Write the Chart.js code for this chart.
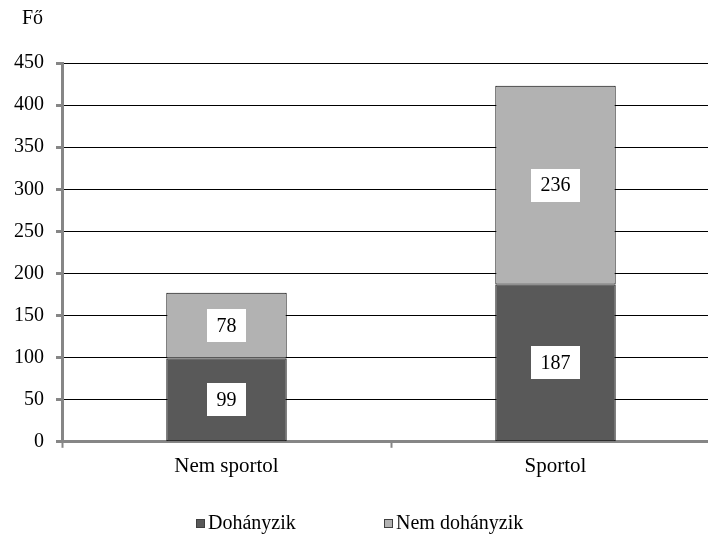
<!DOCTYPE html>
<html>
<head>
<meta charset="utf-8">
<script src="https://cdn.jsdelivr.net/npm/chart.js@4.4.0/dist/chart.umd.min.js"></script>
<style>
html,body{margin:0;padding:0;background:#fff;overflow:hidden;}
#wrap{width:720px;height:535px;position:relative;}
</style>
</head>
<body>
<div id="wrap"><canvas id="c" width="720" height="535"></canvas></div>
<script>
const categories = ["Nem sportol", "Sportol"];
const smokers = [99, 187];
const nonSmokers = [78, 236];
const seriesNames = ["Dohányzik", "Nem dohányzik"];
const yTitle = "Fő";

const FONT = "'Liberation Serif', 'Times New Roman', serif";

const labelBoxes = {
  id: 'labelBoxes',
  afterDatasetsDraw(chart) {
    const ctx = chart.ctx;
    ctx.save();
    ctx.font = "20px " + FONT;
    ctx.textAlign = 'center';
    ctx.textBaseline = 'middle';
    chart.data.datasets.forEach((ds, di) => {
      const meta = chart.getDatasetMeta(di);
      meta.data.forEach((bar, i) => {
        const v = ds.data[i];
        const txt = String(v);
        const w = ctx.measureText(txt).width + 19;
        const h = 33;
        const cx = bar.x;
        const cy = (bar.y + bar.base) / 2;
        ctx.fillStyle = '#fff';
        ctx.fillRect(Math.round(cx - w / 2), Math.round(cy - h / 2), Math.round(w), h);
        ctx.fillStyle = '#000';
        ctx.fillText(txt, cx, cy + 1);
      });
    });
    ctx.restore();
  }
};

const customLegend = {
  id: 'customLegend',
  afterDraw(chart) {
    const ctx = chart.ctx;
    const xs = [196, 384];
    const yc = 524;
    ctx.save();
    ctx.font = "20px " + FONT;
    ctx.textAlign = 'left';
    ctx.textBaseline = 'middle';
    chart.data.datasets.forEach((ds, i) => {
      const x = xs[i];
      ctx.fillStyle = ds.backgroundColor;
      ctx.fillRect(x, yc - 5, 9, 9);
      ctx.strokeStyle = '#404040';
      ctx.lineWidth = 1;
      ctx.strokeRect(x + 0.5, yc - 4.5, 8, 8);
      ctx.fillStyle = '#000';
      ctx.fillText(ds.label, x + 12, yc);
    });
    ctx.restore();
  }
};

const yTitlePlugin = {
  id: 'yTitle',
  afterDraw(chart) {
    const ctx = chart.ctx;
    const s = chart.scales.y;
    ctx.save();
    ctx.font = "20px " + FONT;
    ctx.fillStyle = '#000';
    ctx.textAlign = 'right';
    ctx.textBaseline = 'middle';
    ctx.fillText(yTitle, s.right - 19, 19);
    ctx.restore();
  }
};

new Chart(document.getElementById('c'), {
  type: 'bar',
  data: {
    labels: categories,
    datasets: [
      { label: seriesNames[0], data: smokers, backgroundColor: '#595959', borderColor: '#000', borderWidth: 1, borderSkipped: false },
      { label: seriesNames[1], data: nonSmokers, backgroundColor: '#b2b2b2', borderColor: '#000', borderWidth: 1, borderSkipped: false }
    ]
  },
  options: {
    responsive: false,
    animation: false,
    layout: { padding: { top: 63, left: 2, right: 0, bottom: 50 } },
    datasets: { bar: { categoryPercentage: 1.0, barPercentage: 0.366 } },
    scales: {
      x: {
        stacked: true,
        grid: { drawOnChartArea: false, drawTicks: true, tickLength: 6, tickColor: '#868686', tickWidth: 2, offset: true },
        border: { color: '#868686', width: 3 },
        ticks: { color: '#000', font: { family: FONT, size: 21 }, padding: 6 }
      },
      y: {
        stacked: true,
        min: 0, max: 450,
        grid: { color: '#000', lineWidth: 1, tickLength: 6, tickColor: '#868686', tickWidth: 3 },
        border: { color: '#868686', width: 3 },
        ticks: { stepSize: 50, color: '#000', font: { family: FONT, size: 20 }, padding: 12 }
      }
    },
    plugins: {
      legend: { display: false },
      tooltip: { enabled: false }
    }
  },
  plugins: [labelBoxes, customLegend, yTitlePlugin]
});
</script>
</body>
</html>
